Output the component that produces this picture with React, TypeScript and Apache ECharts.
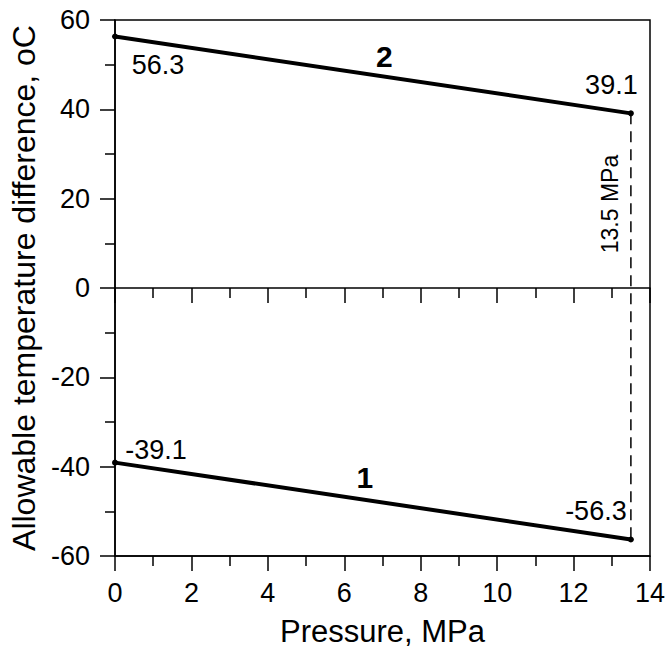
import React, { useEffect, useRef } from 'react';
import * as echarts from 'echarts';

// ---- data ----
const pressure = [0, 13.5];
const curve2 = [56.3, 39.1];
const curve1 = [-39.1, -56.3];
const limitPressure = 13.5;
const limitLabel = '13.5 MPa';
const curveNames = ['1', '2'];
const curveNameAt = [
  [6.54, -42.5],
  [7.05, 51.9],
];
const limitLabelAt = [12.95, 18.8];
const xTitle = 'Pressure, MPa';
const yTitle = 'Allowable temperature difference, oC';

const FONT = '"Liberation Sans", Arial, Helvetica, sans-serif';
const BLACK = '#000';

// label pixel offsets (style)
const offsets2 = [
  [43, 28.5],
  [-19.5, -28],
];
const offsets1 = [
  [41, -12.7],
  [-35, -28.5],
];

const noBorder = { textBorderColor: 'transparent', textBorderWidth: 0, opacity: 1 };

function valueItems(vals: number[], offs: number[][]) {
  return vals.map((v, i) => ({
    value: [pressure[i], v],
    label: {
      show: true,
      position: 'inside',
      offset: offs[i],
      formatter: String(v),
      color: BLACK,
      fontSize: 27,
      fontFamily: FONT,
      align: 'center',
      verticalAlign: 'middle',
      ...noBorder,
    },
  }));
}

export default function App() {
  const ref = useRef<HTMLDivElement>(null);
  useEffect(() => {
    if (!ref.current) return;
    const chart = echarts.init(ref.current, undefined, { renderer: 'svg' });
    const axisLineStyle = { color: BLACK, width: 1.5 };
    const lineStyleThick = { color: BLACK, width: 4 };
    chart.setOption({
      animation: false,
      backgroundColor: '#fff',
      grid: {
        left: 115,
        right: 19,
        top: 20,
        bottom: 96,
        show: true,
        borderColor: BLACK,
        borderWidth: 1.5,
        backgroundColor: 'transparent',
      },
      xAxis: [
        {
          type: 'value',
          min: 0,
          max: 14,
          interval: 2,
          position: 'bottom',
          axisLine: { show: true, onZero: false, lineStyle: axisLineStyle },
          axisTick: { show: true, length: 15, lineStyle: axisLineStyle },
          minorTick: { show: true, splitNumber: 2, length: 10, lineStyle: axisLineStyle },
          splitLine: { show: false },
          minorSplitLine: { show: false },
          axisLabel: { fontSize: 27, color: BLACK, margin: 23, fontFamily: FONT },
          name: xTitle,
          nameLocation: 'middle',
          nameGap: 60,
          nameTextStyle: { fontSize: 31, color: BLACK, fontFamily: FONT },
        },
        {
          type: 'value',
          min: 0,
          max: 14,
          interval: 2,
          position: 'top',
          axisLine: { show: true, onZero: true, lineStyle: axisLineStyle },
          axisTick: { show: true, inside: true, length: 15, lineStyle: axisLineStyle },
          minorTick: { show: true, splitNumber: 2, length: 10, lineStyle: axisLineStyle },
          splitLine: { show: false },
          minorSplitLine: { show: false },
          axisLabel: { show: false },
        },
      ],
      yAxis: {
        type: 'value',
        min: -60,
        max: 60,
        interval: 20,
        axisLine: { show: true, onZero: false, lineStyle: axisLineStyle },
        axisTick: { show: true, length: 15, lineStyle: axisLineStyle },
        minorTick: { show: true, splitNumber: 2, length: 10, lineStyle: axisLineStyle },
        splitLine: { show: false },
        minorSplitLine: { show: false },
        axisLabel: { fontSize: 27, color: BLACK, margin: 25, fontFamily: FONT },
        name: yTitle,
        nameLocation: 'middle',
        nameRotate: 90,
        nameGap: 75,
        nameTextStyle: { fontSize: 32, color: BLACK, fontFamily: FONT },
      },
      series: [
        {
          type: 'line',
          xAxisIndex: 0,
          data: [
            [limitPressure, curve2[1]],
            [limitPressure, curve1[1]],
          ],
          symbol: 'none',
          lineStyle: { color: BLACK, width: 1.5, type: [11, 7] },
          z: 1,
        },
        {
          type: 'line',
          xAxisIndex: 0,
          data: valueItems(curve2, offsets2),
          symbol: 'circle',
          symbolSize: 6,
          itemStyle: { color: BLACK },
          lineStyle: lineStyleThick,
          z: 3,
        },
        {
          type: 'line',
          xAxisIndex: 0,
          data: valueItems(curve1, offsets1),
          symbol: 'circle',
          symbolSize: 6,
          itemStyle: { color: BLACK },
          lineStyle: lineStyleThick,
          z: 3,
        },
        {
          type: 'scatter',
          xAxisIndex: 0,
          symbolSize: 1,
          itemStyle: { color: 'rgba(0,0,0,0)', opacity: 1 },
          data: [
            ...curveNames.map((n, i) => ({
              value: curveNameAt[i],
              label: {
                show: true,
                position: 'inside',
                formatter: n,
                color: BLACK,
                fontSize: 30,
                fontWeight: 'bold',
                fontFamily: FONT,
                align: 'center',
                verticalAlign: 'middle',
                ...noBorder,
              },
            })),
            {
              value: limitLabelAt,
              label: {
                show: true,
                position: 'inside',
                formatter: limitLabel,
                rotate: 90,
                color: BLACK,
                fontSize: 23,
                fontFamily: FONT,
                align: 'center',
                verticalAlign: 'middle',
                ...noBorder,
              },
            },
          ],
          z: 4,
        },
      ],
    });
    return () => chart.dispose();
  }, []);
  return (
    <div
      ref={ref}
      style={{ position: 'absolute', left: 0, top: 0, width: 669, height: 652 }}
    />
  );
}
